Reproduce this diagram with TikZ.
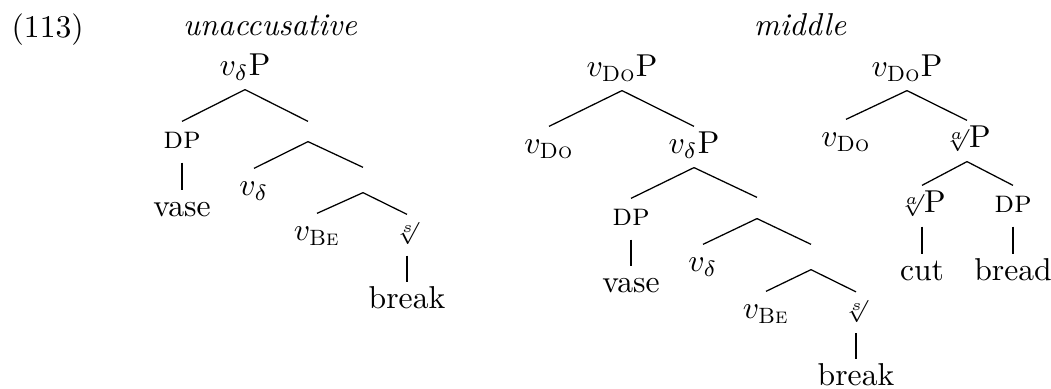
\documentclass[tikz,border=0pt]{standalone}
\usepackage{amsmath}
\newcommand{\rtsym}[2]{\raisebox{#2}{$\scriptstyle\sqrt[#1]{}$}}
\begin{document}
\begin{tikzpicture}[x=0.316pt,y=-0.316pt,
  lbl/.style={anchor=base,inner sep=0pt,text height=8.53pt,text depth=4.1pt},
  leaf/.style={anchor=base,inner sep=0pt,text height=8.2pt,text depth=0pt},
  bare/.style={inner sep=0pt,minimum width=0pt},
  title/.style={anchor=base,inner sep=0pt},
  br/.style={line width=0.4pt}]
\useasboundingbox (0,0) rectangle (1051,389);
% titles
\node[title,anchor=base west] (ex) at (11,37.5) {(113)};
\node[title] (tu) at (270,36) {\itshape unaccusative};
\node[title] (tm) at (800,36) {\itshape middle};
% unaccusative tree
\node[lbl] (vdPu) at (245,76) {$v_{\delta}\mathrm{P}$};
\node[lbl] (DPu) at (182,149) {\textsc{dp}};
\node[leaf] (vaseu) at (182,217) {vase};
\node[bare,minimum height=6.0pt] (n1) at (308,131.5) {};
\node[lbl] (vdu) at (254,196) {$v_{\delta}$};
\node[bare,minimum height=7.6pt] (n2) at (363,180) {};
\node[lbl] (vBeu) at (317,241) {$v_{\text{\textsc{Be}}}$};
\node[lbl] (rsu) at (407,242) {\rtsym{s}{2.2pt}};
\node[leaf] (breaku) at (407,309) {break};
\draw[br] (vdPu.south) -- (DPu.north);
\draw[br] (vdPu.south) -- (n1.north);
\draw[br] (DPu.south) -- (vaseu.north);
\draw[br] (n1.south) -- (vdu.north);
\draw[br] (n1.south) -- (n2.north);
\draw[br] (n2.south) -- (vBeu.north);
\draw[br] (n2.south) -- (rsu.north);
\draw[br] (rsu.south) -- (breaku.north);
% middle tree 1
\node[lbl] (vDoPm) at (622,77) {$v_{\text{\textsc{Do}}}\mathrm{P}$};
\node[lbl] (vDom) at (549,154) {$v_{\text{\textsc{Do}}}$};
\node[lbl] (vdPm) at (694,154) {$v_{\delta}\mathrm{P}$};
\node[lbl] (DPm) at (631,226) {\textsc{dp}};
\node[leaf] (vasem) at (631,293) {vase};
\node[bare,minimum height=6.3pt] (n3) at (757,208) {};
\node[lbl] (vdm) at (703,272) {$v_{\delta}$};
\node[bare,minimum height=7.6pt] (n4) at (811,257) {};
\node[lbl] (vBem) at (766,319) {$v_{\text{\textsc{Be}}}$};
\node[lbl] (rsm) at (856,319.5) {\rtsym{s}{2.2pt}};
\node[leaf] (breakm) at (856,386) {break};
\draw[br] (vDoPm.south) -- (vDom.north);
\draw[br] (vDoPm.south) -- (vdPm.north);
\draw[br] (vdPm.south) -- (DPm.north);
\draw[br] (vdPm.south) -- (n3.north);
\draw[br] (DPm.south) -- (vasem.north);
\draw[br] (n3.south) -- (vdm.north);
\draw[br] (n3.south) -- (n4.north);
\draw[br] (n4.south) -- (vBem.north);
\draw[br] (n4.south) -- (rsm.north);
\draw[br] (rsm.south) -- (breakm.north);
% middle tree 2
\node[lbl] (vDoPr) at (907,77) {$v_{\text{\textsc{Do}}}\mathrm{P}$};
\node[lbl] (vDor) at (846,147) {$v_{\text{\textsc{Do}}}$};
\node[lbl] (raPr) at (967,148) {\rtsym{a}{2pt}$\mathrm{P}$};
\node[lbl] (raPl) at (922,213) {\rtsym{a}{2pt}$\mathrm{P}$};
\node[lbl] (DPr) at (1013,213) {\textsc{dp}};
\node[leaf] (cut) at (922,281) {cut};
\node[leaf] (bread) at (1013,281) {bread};
\draw[br] (vDoPr.south) -- (vDor.north);
\draw[br] (vDoPr.south) -- (raPr.north);
\draw[br] (raPr.south) -- (raPl.north);
\draw[br] (raPr.south) -- (DPr.north);
\draw[br] (raPl.south) -- (cut.north);
\draw[br] (DPr.south) -- (bread.north);
\end{tikzpicture}
\end{document}
